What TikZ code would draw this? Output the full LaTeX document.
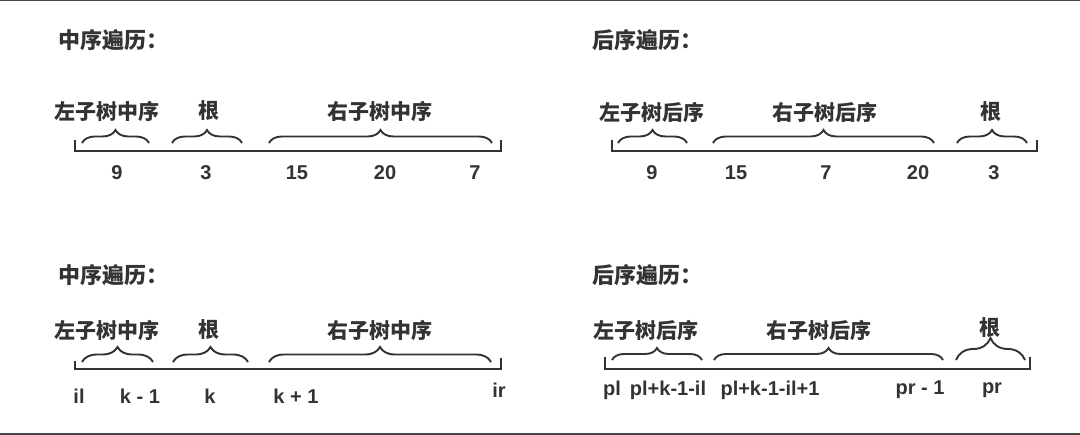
\documentclass[tikz,border=0pt]{standalone}
\usepackage{fontspec}
\setmainfont{Liberation Sans}
\newfontfamily\cjk{Noto Sans CJK SC}
\usetikzlibrary{decorations.pathreplacing}
\definecolor{ink}{HTML}{333333}
\tikzset{
  heading/.style={anchor=west, inner sep=0pt, text=ink, font=\cjk\bfseries\fontsize{22}{26}\selectfont},
  sublabel/.style={inner sep=0pt, text=ink, font=\cjk\bfseries\fontsize{21}{25}\selectfont},
  val/.style={inner sep=0pt, text=ink, font=\bfseries\fontsize{20}{24}\selectfont},
  ruler/.style={draw=ink, line width=2pt},
  curly/.style={draw=ink, line width=1.9pt, decorate, decoration={brace, amplitude=#1}},
}
\begin{document}
\begin{tikzpicture}[x=1pt,y=-1pt]
            \useasboundingbox (0,0) rectangle (1080,435);
            \draw[draw=ink!90, line width=1.2pt] (0,0.6) -- (1080,0.6);
            \draw[draw=ink!90, line width=1.6pt] (0,433.8) -- (1080,433.8);
            
            % inorder, values
            \node[heading] (H1) at (58,40) {中序遍历：};
            \node[sublabel] (A1) at (107,111) {左子树中序};
            \node[sublabel] (B1) at (209,111) {根};
            \node[sublabel] (C1) at (380,111) {右子树中序};
            \coordinate (A1s) at (82,143);
            \coordinate (A1e) at (149,143);
            \coordinate (B1s) at (172,143);
            \coordinate (B1e) at (242,143);
            \coordinate (C1s) at (269,143);
            \coordinate (C1e) at (492,143);
            \coordinate (P1) at (75,140);
            \coordinate (Q1) at (75,151);
            \coordinate (R1) at (501,151);
            \coordinate (S1) at (501,140);
            \node[val] (X1) at (117,173) {9};
            \node[val] (X2) at (206,173) {3};
            \node[val] (X3) at (297,173) {15};
            \node[val] (X4) at (385,173) {20};
            \node[val] (X5) at (475,173) {7};
            \draw[curly=13pt] (A1s) -- (A1e);
            \draw[curly=13pt] (B1s) -- (B1e);
            \draw[curly=13pt] (C1s) -- (C1e);
            \draw[ruler] (P1) -- (Q1) -- (R1) -- (S1);
            
            % postorder, values
            \node[heading] (H2) at (592,40) {后序遍历：};
            \node[sublabel] (A2) at (652,112) {左子树后序};
            \node[sublabel] (B2) at (825,112) {右子树后序};
            \node[sublabel] (C2) at (991,112) {根};
            \coordinate (A2s) at (618,143);
            \coordinate (A2e) at (687,143);
            \coordinate (B2s) at (713,143);
            \coordinate (B2e) at (934,143);
            \coordinate (C2s) at (957,143);
            \coordinate (C2e) at (1027,143);
            \coordinate (P2) at (612,140);
            \coordinate (Q2) at (612,151);
            \coordinate (R2) at (1037,151);
            \coordinate (S2) at (1037,140);
            \node[val] (Y1) at (652,173) {9};
            \node[val] (Y2) at (736,173) {15};
            \node[val] (Y3) at (826,173) {7};
            \node[val] (Y4) at (918,173) {20};
            \node[val] (Y5) at (994,173) {3};
            \draw[curly=13pt] (A2s) -- (A2e);
            \draw[curly=13pt] (B2s) -- (B2e);
            \draw[curly=13pt] (C2s) -- (C2e);
            \draw[ruler] (P2) -- (Q2) -- (R2) -- (S2);
            
            % inorder, indices
            \node[heading] (H3) at (58,275) {中序遍历：};
            \node[sublabel] (A3) at (107,330) {左子树中序};
            \node[sublabel] (B3) at (209,330) {根};
            \node[sublabel] (C3) at (380,330) {右子树中序};
            \coordinate (A3s) at (82,362);
            \coordinate (A3e) at (153,362);
            \coordinate (B3s) at (173,362);
            \coordinate (B3e) at (248,362);
            \coordinate (C3s) at (269,362);
            \coordinate (C3e) at (491,362);
            \coordinate (P3) at (75,361);
            \coordinate (Q3) at (75,369);
            \coordinate (R3) at (501,369);
            \coordinate (S3) at (501,358);
            \node[val] (U1) at (79,396) {il};
            \node[val] (U2) at (140,396) {k - 1};
            \node[val] (U3) at (210,396) {k};
            \node[val] (U4) at (296,396) {k + 1};
            \node[val] (U5) at (499,390) {ir};
            \draw[curly=15pt] (A3s) -- (A3e);
            \draw[curly=15pt] (B3s) -- (B3e);
            \draw[curly=15pt] (C3s) -- (C3e);
            \draw[ruler] (P3) -- (Q3) -- (R3) -- (S3);
            
            % postorder, indices
            \node[heading] (H4) at (592,275) {后序遍历：};
            \node[sublabel] (A4) at (646,330) {左子树后序};
            \node[sublabel] (B4) at (819,330) {右子树后序};
            \node[sublabel] (C4) at (990,328) {根};
            \coordinate (A4s) at (612,360);
            \coordinate (A4e) at (702,360);
            \coordinate (B4s) at (714,360);
            \coordinate (B4e) at (943,360);
            \coordinate (C4s) at (956,360);
            \coordinate (C4e) at (1025,360);
            \coordinate (P4) at (605,357);
            \coordinate (Q4) at (605,369);
            \coordinate (R4) at (1030,369);
            \coordinate (S4) at (1030,357);
            \node[val] (V1) at (612,390) {pl};
            \node[val] (V2) at (668,390) {pl+k-1-il};
            \node[val] (V3) at (770,390) {pl+k-1-il+1};
            \node[val] (V4) at (920,390) {pr - 1};
            \node[val] (V5) at (992,390) {pr};
            \draw[curly=12pt] (A4s) -- (A4e);
            \draw[curly=12pt] (B4s) -- (B4e);
            \draw[curly=22pt] (C4s) -- (C4e);
            \draw[ruler] (P4) -- (Q4) -- (R4) -- (S4);
          \end{tikzpicture}
\end{document}
